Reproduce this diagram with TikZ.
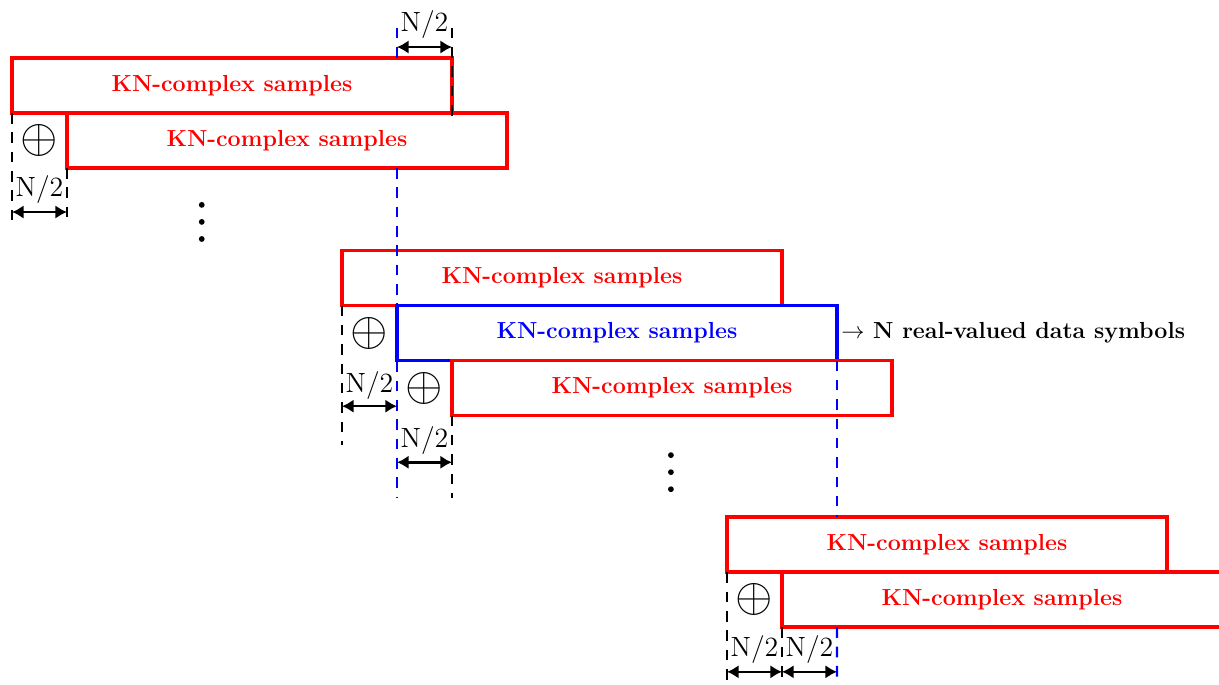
\documentclass[tikz,border=0pt]{standalone}
\usepackage{amsmath, amssymb}
\usepackage{tikz}
\usetikzlibrary{arrows.meta}

\tikzset{
  redbox/.style={draw=red, line width=2pt, minimum width=8cm, minimum height=1cm,
    inner sep=0pt, outer sep=0pt, anchor=north west, text=red, font=\large\bfseries},
  bluebox/.style={redbox, draw=blue, text=blue},
  blackguide/.style={black, line width=1.2pt, dash pattern=on 5.5pt off 4.5pt},
  blueguide/.style={blackguide, blue},
  halfarrow/.style={{Latex[length=6pt,width=7pt]}-{Latex[length=6pt,width=7pt]}, line width=1.3pt},
  halflabel/.style={font=\Large, inner sep=0pt},
  xorsign/.style={font=\Huge, inner sep=0pt}
}

\begin{document}
\begin{tikzpicture}
\clip (-0.218,1.055) rectangle (21.945,-11.382);

% the blocks
\node[redbox]  (k1) at (0,0)      {KN-complex samples};
\node[redbox]  (k2) at (1,-1)     {KN-complex samples};
\node[redbox]  (k3) at (6,-3.5)   {KN-complex samples};
\node[bluebox] (k4) at (7,-4.5)   {KN-complex samples};
\node[redbox]  (k5) at (8,-5.5)   {KN-complex samples};
\node[redbox]  (k6) at (13,-8.35) {KN-complex samples};
\node[redbox]  (k7) at (14,-9.35) {KN-complex samples};
\node[anchor=west, inner sep=2pt, font=\large\bfseries] (out) at (k4.east)
  {$\rightarrow$ N real-valued data symbols};

% guide lines
\coordinate (t7) at (7,0.55);
\coordinate (t8) at (8,0.55);
\draw[blueguide] (t7) -- (t7 |- k1.north);
\draw[blueguide] (t7 |- k2.south) -- (7,-8);
\draw[blackguide] (t8) -- (8,-1.07);
\draw[blackguide] (k1.south west) -- (0,-2.98);
\draw[blackguide] (k2.south west) -- (1,-2.98);
\draw[blackguide] (k3.south west) -- (6,-7.04);
\draw[blackguide] (k5.south west) -- (8,-8);
\draw[blueguide] (k4.south east) -- (k4.south east |- k6.north);
\draw[blueguide] (k4.south east |- k7.south) -- (15,-11.4);
\draw[blackguide] (k6.south west) -- (13,-11.4);
\draw[blackguide] (k7.south west) -- (14,-11.4);

% N/2 arrows
\coordinate (a1) at (7,0.2);      \coordinate (a2) at (8,0.2);
\coordinate (b1) at (0,-2.8);     \coordinate (b2) at (1,-2.8);
\coordinate (c1) at (6,-6.33);    \coordinate (c2) at (7,-6.33);
\coordinate (d1) at (7,-7.35);    \coordinate (d2) at (8,-7.35);
\coordinate (e1) at (13,-11.16);  \coordinate (e2) at (14,-11.16);
\coordinate (e3) at (15,-11.16);
\draw[halfarrow] (a1) -- (a2);
\draw[halfarrow] (b1) -- (b2);
\draw[halfarrow] (c1) -- (c2);
\draw[halfarrow] (d1) -- (d2);
\draw[halfarrow] (e1) -- (e2);
\draw[halfarrow] (e2) -- (e3);
\node[halflabel] (h1) at (7.5,0.6)     {$\mathrm{N/2}$};
\node[halflabel] (h2) at (0.5,-2.4)    {$\mathrm{N/2}$};
\node[halflabel] (h3) at (6.5,-5.95)   {$\mathrm{N/2}$};
\node[halflabel] (h4) at (7.5,-6.95)   {$\mathrm{N/2}$};
\node[halflabel] (h5) at (13.5,-10.76) {$\mathrm{N/2}$};
\node[halflabel] (h6) at (14.5,-10.76) {$\mathrm{N/2}$};

% xor signs
\node[xorsign] (x1) at (0.5,-1.5)  {$\oplus$};
\node[xorsign] (x2) at (6.5,-5)    {$\oplus$};
\node[xorsign] (x3) at (7.5,-6)    {$\oplus$};
\node[xorsign] (x4) at (13.5,-9.85) {$\oplus$};

% dots
\foreach \dy in {0,0.31,0.62} {
  \fill (3.45,-2.67-\dy) circle (1.5pt);
  \fill (11.98,-7.22-\dy) circle (1.5pt);
}
\end{tikzpicture}
\end{document}
